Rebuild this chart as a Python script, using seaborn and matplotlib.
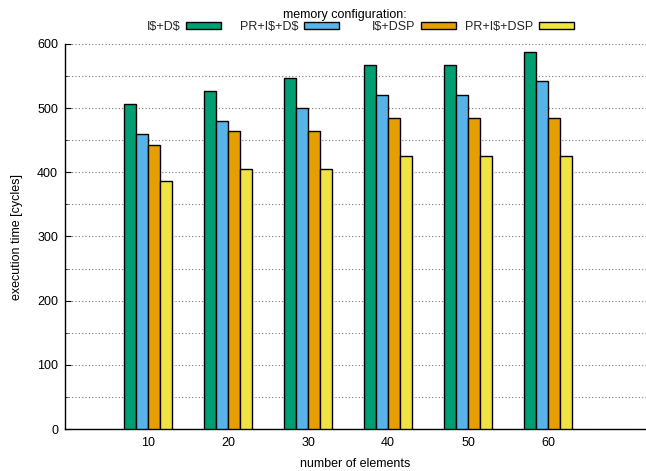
import matplotlib
matplotlib.use("Agg")
import matplotlib.pyplot as plt
import seaborn as sns
import pandas as pd
from matplotlib.ticker import MultipleLocator
from matplotlib.patches import Patch

elements = ["10", "20", "30", "40", "50", "60"]
configs = ["I$+D$", "PR+I$+D$", "I$+DSP", "PR+I$+DSP"]
ids = [507, 527, 547, 567, 567, 587]
pr_ids = [459, 480, 501, 521, 521, 542]
idsp = [443, 464, 464, 484, 484, 484]
pr_idsp = [386, 405, 405, 425, 425, 425]
colors = ["#009e73", "#56b4e9", "#e69f00", "#f0e442"]

series = [ids, pr_ids, idsp, pr_idsp]
rows = []
for cfg, vals in zip(configs, series):
    for e, v in zip(elements, vals):
        rows.append({"elements": e, "config": cfg, "time": v})
df = pd.DataFrame(rows)

sns.set_theme(style="white")
plt.rcParams["font.family"] = ["Liberation Sans", "DejaVu Sans"]
plt.rcParams["text.usetex"] = False
plt.rcParams["text.parse_math"] = False

fig = plt.figure(figsize=(6.46, 4.71), dpi=100)
ax = fig.add_axes([65 / 646, 42 / 471, 1 - 65 / 646, (429 - 44) / 471])

sns.barplot(data=df, x="elements", y="time", hue="config", hue_order=configs,
            order=elements, palette=colors, width=0.6, gap=0,
            edgecolor="black", linewidth=1.0, saturation=1, ax=ax, legend=False,
            zorder=3)

ax.set_ylim(0, 600)
ax.set_xlim(-1.0375, 6.225)
ax.yaxis.set_major_locator(MultipleLocator(100))
ax.yaxis.set_minor_locator(MultipleLocator(50))
ax.grid(True, axis="y", which="both", linestyle=(0, (1, 2)), color="#777777",
        linewidth=0.8, zorder=0)
ax.set_axisbelow(True)
for s in ["top", "right"]:
    ax.spines[s].set_visible(False)
for s in ["left", "bottom"]:
    ax.spines[s].set_color("black")
    ax.spines[s].set_linewidth(1.0)
ax.tick_params(axis="y", which="major", direction="in", length=4, width=0.8,
               left=True, labelsize=9, colors="black", pad=5)
ax.tick_params(axis="y", which="minor", direction="in", length=2, width=0.6, left=True)
ax.tick_params(axis="x", which="both", length=0, labelsize=9, colors="black", pad=6)
ax.set_xlabel("number of elements", fontsize=9, labelpad=6, color="black")
ax.set_ylabel("execution time [cycles]", fontsize=9, labelpad=10, color="black")

# gnuplot-style key: title on top, right-justified text followed by sample
fig.text(345 / 646, 1 - 15 / 471, "memory configuration:", ha="center", va="center",
         fontsize=9, color="black")
swatch_ends = [221, 339, 456, 574]
for cfg, col, xe in zip(configs, colors, swatch_ends):
    h = Patch(facecolor=col, edgecolor="black", linewidth=1.0)
    fig.legend([h], [cfg], loc="center right", bbox_to_anchor=(xe / 646, 1 - 27 / 471),
               frameon=False, markerfirst=False, fontsize=9, handlelength=2.8,
               handleheight=0.55, handletextpad=0.45, borderpad=0, borderaxespad=0)

fig.savefig("out.png", dpi=100)
